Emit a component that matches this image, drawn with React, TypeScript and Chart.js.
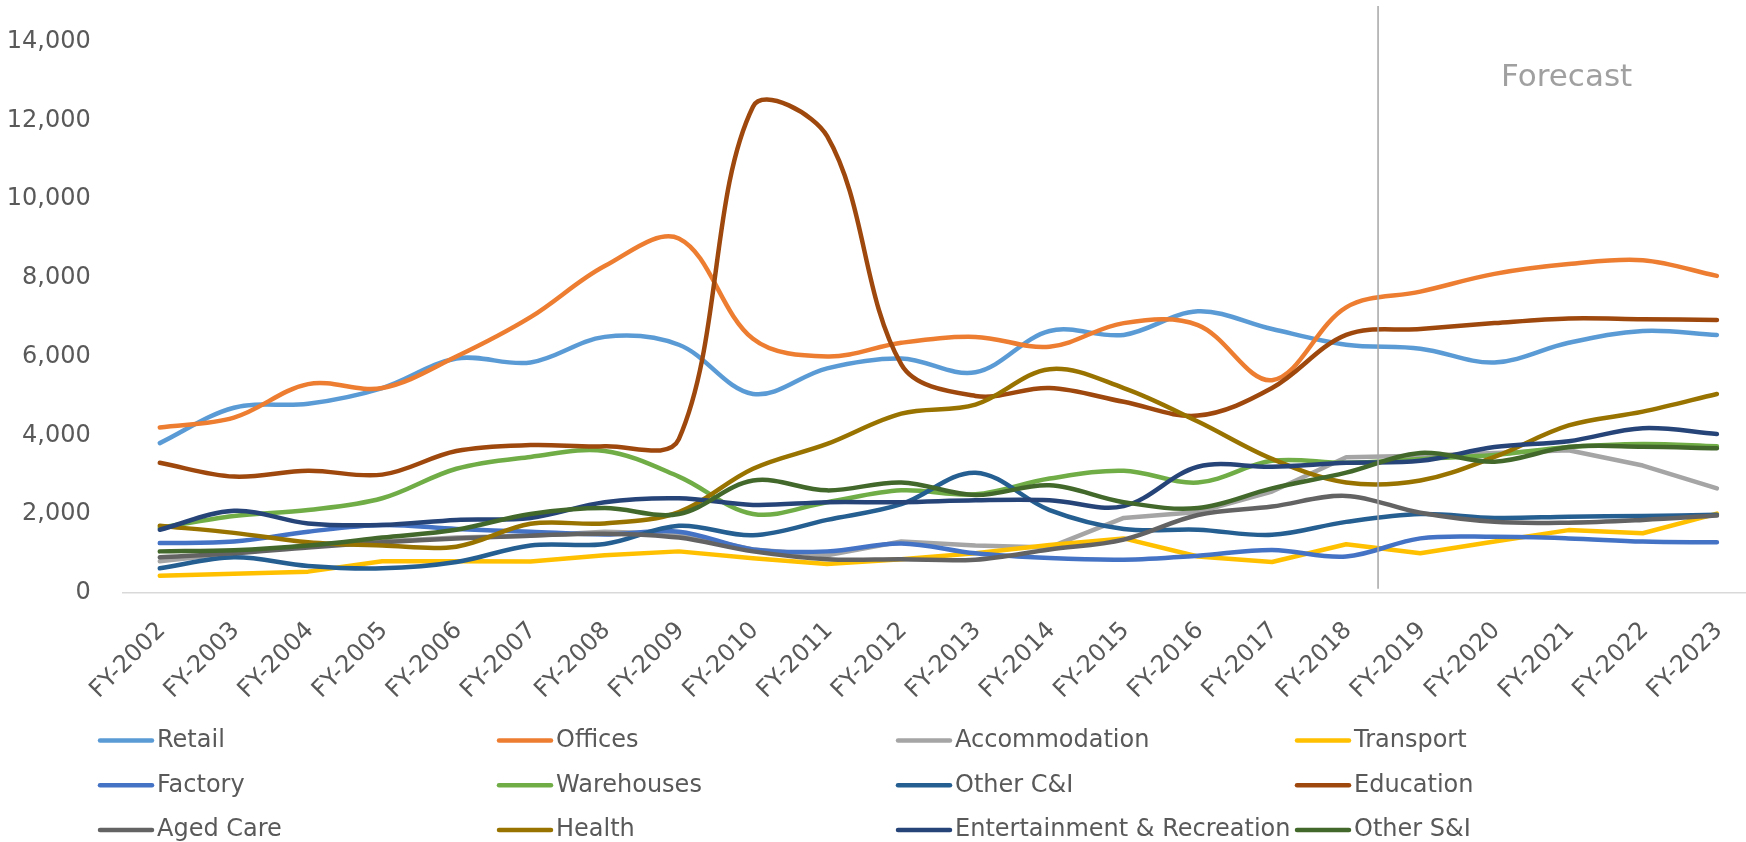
import React, { useEffect, useRef } from "react";
import { Chart, registerables } from "chart.js";

Chart.register(...registerables);

const categories = [
  "FY-2002", "FY-2003", "FY-2004", "FY-2005", "FY-2006", "FY-2007", "FY-2008", "FY-2009",
  "FY-2010", "FY-2011", "FY-2012", "FY-2013", "FY-2014", "FY-2015", "FY-2016", "FY-2017",
  "FY-2018", "FY-2019", "FY-2020", "FY-2021", "FY-2022", "FY-2023",
];

const retail = [3800, 4700, 4800, 5200, 5950, 5850, 6500, 6300, 5050, 5700, 5950, 5600, 6650, 6550, 7150, 6700, 6300, 6200, 5850, 6350, 6650, 6550];
const offices = [4200, 4450, 5300, 5200, 6000, 7000, 8300, 9000, 6450, 6000, 6350, 6500, 6250, 6850, 6800, 5400, 7250, 7650, 8100, 8350, 8450, 8050];
const accommodation = [800, 1000, 1200, 1300, 1400, 1450, 1550, 1500, 1100, 950, 1300, 1200, 1150, 1900, 2050, 2570, 3440, 3480, 3550, 3620, 3230, 2650];
const transport = [430, 480, 535, 800, 800, 790, 950, 1050, 875, 730, 850, 1000, 1210, 1380, 920, 780, 1230, 1000, 1300, 1590, 1510, 2010];
const factory = [1260, 1300, 1550, 1720, 1620, 1550, 1480, 1550, 1100, 1050, 1250, 1000, 880, 840, 940, 1085, 920, 1380, 1420, 1380, 1300, 1280];
const warehouses = [1650, 1950, 2100, 2400, 3150, 3450, 3600, 2950, 2000, 2300, 2600, 2500, 2900, 3100, 2800, 3350, 3300, 3400, 3500, 3700, 3780, 3720];
const otherCI = [620, 900, 680, 620, 780, 1200, 1240, 1700, 1460, 1850, 2250, 3050, 2100, 1620, 1600, 1470, 1800, 2000, 1900, 1930, 1950, 1980];
const education = [3300, 2950, 3100, 3000, 3600, 3750, 3720, 3900, 12350, 11600, 5800, 5000, 5200, 4850, 4500, 5200, 6550, 6700, 6850, 6970, 6950, 6930];
const agedCare = [900, 1000, 1150, 1280, 1380, 1450, 1500, 1400, 1050, 850, 850, 840, 1100, 1350, 1975, 2190, 2460, 2030, 1800, 1780, 1850, 1960];
const health = [1700, 1520, 1280, 1200, 1170, 1750, 1760, 2050, 3150, 3780, 4550, 4780, 5680, 5200, 4350, 3400, 2800, 2850, 3450, 4250, 4600, 5050];
const entertainment = [1600, 2080, 1760, 1720, 1850, 1900, 2300, 2400, 2230, 2300, 2300, 2350, 2350, 2200, 3200, 3200, 3300, 3350, 3700, 3850, 4180, 4030];
const otherSI = [1050, 1080, 1200, 1400, 1600, 2000, 2150, 2000, 2850, 2600, 2800, 2480, 2730, 2300, 2150, 2650, 3050, 3550, 3330, 3700, 3710, 3670];

const seriesNames = [
  "Retail", "Offices", "Accommodation", "Transport",
  "Factory", "Warehouses", "Other C&I", "Education",
  "Aged Care", "Health", "Entertainment & Recreation", "Other S&I",
];
const seriesValues = [
  retail, offices, accommodation, transport,
  factory, warehouses, otherCI, education,
  agedCare, health, entertainment, otherSI,
];
const seriesColors = [
  "#5B9BD5", "#ED7D31", "#A5A5A5", "#FFC000",
  "#4472C4", "#70AD47", "#255E91", "#9E480E",
  "#636363", "#997300", "#264478", "#43682B",
];
const seriesSmooth = [true, true, false, false, true, true, true, true, true, true, true, true];

const forecastLabel = "Forecast";

const FONT = "'DejaVu Sans', Verdana, sans-serif";
const CANVAS_W = 1754;
const CANVAS_H = 842;

export default function App() {
  const canvasRef = useRef<HTMLCanvasElement | null>(null);

  useEffect(() => {
    const canvas = canvasRef.current;
    if (!canvas) return;

    const forecastPlugin = {
      id: "forecastMarker",
      afterDatasetsDraw(chart: any) {
        const ctx = chart.ctx;
        const xs = chart.scales.x;
        const p16 = xs.getPixelForValue(16);
        const p17 = xs.getPixelForValue(17);
        const lx = p16 + 0.43 * (p17 - p16);
        ctx.save();
        ctx.strokeStyle = "#A6A6A6";
        ctx.lineWidth = 1.5;
        ctx.beginPath();
        ctx.moveTo(lx, 6);
        ctx.lineTo(lx, chart.chartArea.bottom - 4);
        ctx.stroke();
        ctx.fillStyle = "#A0A0A0";
        ctx.font = `31px ${FONT}`;
        ctx.textAlign = "center";
        ctx.textBaseline = "middle";
        ctx.fillText(forecastLabel, xs.getPixelForValue(19) - 2, 78);
        ctx.restore();
      },
    };

    const legendPlugin = {
      id: "gridLegend",
      afterDraw(chart: any) {
        const ctx = chart.ctx;
        ctx.save();
        ctx.font = `24px ${FONT}`;
        ctx.textBaseline = "middle";
        ctx.textAlign = "left";
        seriesNames.forEach((name, i) => {
          const col = i % 4;
          const row = Math.floor(i / 4);
          const x0 = 98 + 399 * col;
          const y0 = 740.5 + 44.8 * row;
          ctx.strokeStyle = seriesColors[i];
          ctx.lineWidth = 4.5;
          ctx.lineCap = "round";
          ctx.beginPath();
          ctx.moveTo(x0 + 2, y0);
          ctx.lineTo(x0 + 54, y0);
          ctx.stroke();
          ctx.fillStyle = "#595959";
          ctx.fillText(name, x0 + 59, y0);
        });
        ctx.restore();
      },
    };

    const chart = new Chart(canvas, {
      type: "line",
      data: {
        labels: categories,
        datasets: seriesValues.map((vals, i) => ({
          label: seriesNames[i],
          data: vals,
          borderColor: seriesColors[i],
          backgroundColor: seriesColors[i],
          borderWidth: 4.5,
          pointRadius: 0,
          pointHoverRadius: 0,
          tension: seriesSmooth[i] ? 0.35 : 0,
          borderCapStyle: "round",
          borderJoinStyle: "round",
          fill: false,
          order: -i,
        })),
      },
      options: {
        responsive: false,
        animation: false,
        events: [],
        layout: { padding: { top: 41.7, left: 0, right: 0, bottom: 0 } },
        plugins: {
          legend: { display: false },
          tooltip: { enabled: false },
          title: { display: false },
        },
        scales: {
          x: {
            type: "category",
            offset: true,
            grid: { display: false },
            border: { display: true, color: "#D9D9D9", width: 1.5 },
            ticks: {
              autoSkip: false,
              maxRotation: 45,
              minRotation: 45,
              padding: 16,
              labelOffset: 2,
              color: "#595959",
              font: { size: 24, family: FONT },
            },
            afterFit: (s: any) => {
              s.height = CANVAS_H - 592.7;
            },
          },
          y: {
            min: 0,
            max: 14000,
            grid: { display: false },
            border: { display: false },
            ticks: {
              stepSize: 2000,
              padding: 24,
              color: "#595959",
              font: { size: 24, family: FONT },
              callback: (v: any) => Number(v).toLocaleString("en-US"),
            },
            afterFit: (s: any) => {
              s.width = 122.7;
            },
          },
        },
      } as any,
      plugins: [forecastPlugin, legendPlugin],
    });

    return () => {
      chart.destroy();
    };
  }, []);

  return (
    <div
      style={{
        position: "fixed",
        left: 0,
        top: 0,
        width: 1746,
        height: 842,
        overflow: "hidden",
        background: "#FFFFFF",
      }}
    >
      <canvas
        ref={canvasRef}
        width={CANVAS_W}
        height={CANVAS_H}
        style={{ display: "block", width: CANVAS_W, height: CANVAS_H }}
      />
    </div>
  );
}
